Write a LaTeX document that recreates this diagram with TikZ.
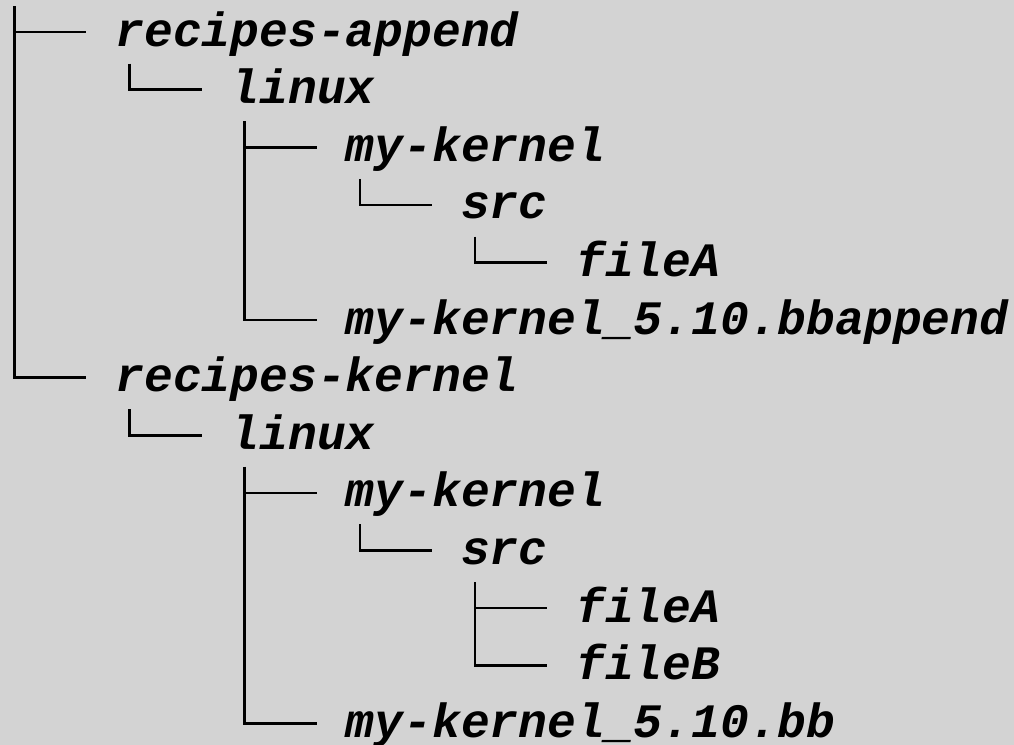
\documentclass[tikz,border=0pt]{standalone}
\usepackage{fontspec}
\setmonofont{Liberation Mono}
\usetikzlibrary{calc}
\definecolor{termgray}{RGB}{211,211,211}
\begin{document}
\begin{tikzpicture}[x=14.4pt,y=-28.8pt,
    entry/.style={anchor=base west,inner sep=0pt,
      font=\fontsize{24pt}{28.8pt}\ttfamily\bfseries\itshape},
    branch/.style={line width=1.3pt}]
  \fill[termgray] (0,0) rectangle (35.21,12.934);
  \useasboundingbox (0,0) rectangle (35.21,12.934);
  \coordinate (root) at (0,-0.2);
  \draw
    (4,0.8) node[entry] (rapp){recipes-append}
    (8,1.8) node[entry] (alinux){linux}
    (12,2.8) node[entry] (akern){my-kernel}
    (16,3.8) node[entry] (asrc){src}
    (20,4.8) node[entry] (afilea){fileA}
    (12,5.8) node[entry] (abbapp){my-kernel\_5.10.bbappend}
    (4,6.8) node[entry] (rkern){recipes-kernel}
    (8,7.8) node[entry] (klinux){linux}
    (12,8.8) node[entry] (kkern){my-kernel}
    (16,9.8) node[entry] (ksrc){src}
    (20,10.8) node[entry] (kfilea){fileA}
    (20,11.8) node[entry] (kfileb){fileB}
    (12,12.8) node[entry] (kbb){my-kernel\_5.10.bb};
  \begin{scope}[branch]
    \draw ($(root)+(0.5,0.306)$) |- ($(rapp.base west)+(-1,-0.243)$);
    \draw ($(root)+(0.5,0.306)$) |- ($(rkern.base west)+(-1,-0.243)$);
    \draw ($(rapp.base west)+(0.5,0.306)$) |- ($(alinux.base west)+(-1,-0.243)$);
    \draw ($(alinux.base west)+(0.5,0.306)$) |- ($(akern.base west)+(-1,-0.243)$);
    \draw ($(alinux.base west)+(0.5,0.306)$) |- ($(abbapp.base west)+(-1,-0.243)$);
    \draw ($(akern.base west)+(0.5,0.306)$) |- ($(asrc.base west)+(-1,-0.243)$);
    \draw ($(asrc.base west)+(0.5,0.306)$) |- ($(afilea.base west)+(-1,-0.243)$);
    \draw ($(rkern.base west)+(0.5,0.306)$) |- ($(klinux.base west)+(-1,-0.243)$);
    \draw ($(klinux.base west)+(0.5,0.306)$) |- ($(kkern.base west)+(-1,-0.243)$);
    \draw ($(klinux.base west)+(0.5,0.306)$) |- ($(kbb.base west)+(-1,-0.243)$);
    \draw ($(kkern.base west)+(0.5,0.306)$) |- ($(ksrc.base west)+(-1,-0.243)$);
    \draw ($(ksrc.base west)+(0.5,0.306)$) |- ($(kfilea.base west)+(-1,-0.243)$);
    \draw ($(ksrc.base west)+(0.5,0.306)$) |- ($(kfileb.base west)+(-1,-0.243)$);
  \end{scope}
\end{tikzpicture}
\end{document}
